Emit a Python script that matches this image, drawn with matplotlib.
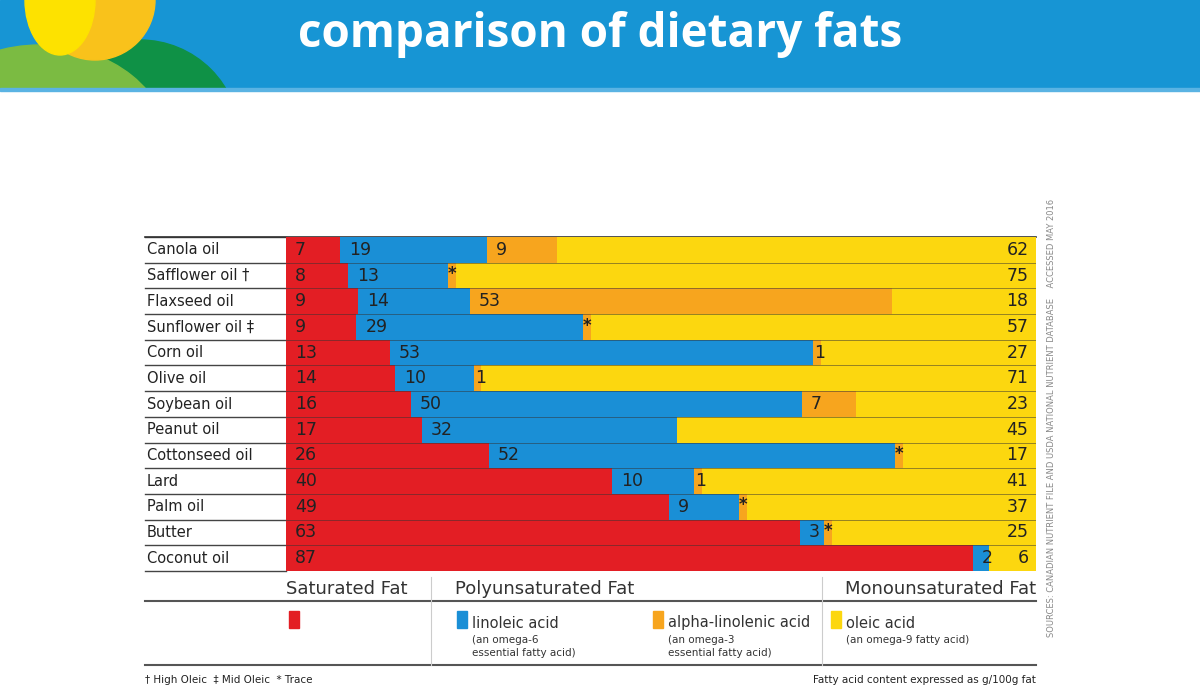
import matplotlib
matplotlib.use("Agg")
import matplotlib.pyplot as plt
from matplotlib.patches import Rectangle, Circle, Ellipse

oils = ["Canola oil", "Safflower oil \u2020", "Flaxseed oil", "Sunflower oil \u2021", "Corn oil",
        "Olive oil", "Soybean oil", "Peanut oil", "Cottonseed oil", "Lard", "Palm oil",
        "Butter", "Coconut oil"]
saturated = [7, 8, 9, 9, 13, 14, 16, 17, 26, 40, 49, 63, 87]
linoleic = [19, 13, 14, 29, 53, 10, 50, 32, 52, 10, 9, 3, 2]
# "T" = trace amount, 0 = none
alpha_lin = [9, "T", 53, "T", 1, 1, 7, 0, "T", 1, "T", "T", 0]
oleic = [62, 75, 18, 57, 27, 71, 23, 45, 17, 41, 37, 25, 6]

RED, BLUE, ORANGE, YELLOW = "#e31e24", "#1a8fd6", "#f7a51e", "#fcd70f"
TXT = "#222222"
W, H = 1200, 699

fig = plt.figure(figsize=(12, 6.99), dpi=100)
bg = fig.add_axes([0, 0, 1, 1])
bg.set_xlim(0, W)
bg.set_ylim(H, 0)
bg.axis("off")

# header
band = Rectangle((0, 0), W, 89, color="#1795d4", zorder=0)
bg.add_patch(band)
for p in [Ellipse((140, 140), 200, 200, color="#0f9146", zorder=1),
          Ellipse((40, 150), 260, 210, color="#7bbb42", zorder=1.5),
          Circle((95, 0), 60, color="#f9c21b", zorder=2),
          Ellipse((60, 0), 70, 110, color="#fde200", zorder=2.2)]:
    bg.add_patch(p)
    p.set_clip_path(band)
bg.add_patch(Rectangle((0, 88), W, 3, color="#5ab3e3", zorder=3))
bg.text(600, 34, "comparison of dietary fats", color="white", fontsize=33,
        fontweight="bold", family="Open Sans", ha="center", va="center", zorder=4)

x0, x1, y0, y1 = 286, 1036, 237, 571
ax = fig.add_axes([x0 / W, 1 - y1 / H, (x1 - x0) / W, (y1 - y0) / H])
ax.set_xlim(0, 1)
ax.set_ylim(len(oils) - 0.5, -0.5)
ax.axis("off")

TRACE = 1.0
for i, oil in enumerate(oils):
    a = alpha_lin[i]
    av = TRACE if a == "T" else a
    vals = [saturated[i], linoleic[i], av, oleic[i]]
    tot = sum(vals)
    left = 0
    for j, (v, c) in enumerate(zip(vals, [RED, BLUE, ORANGE, YELLOW])):
        w = v / tot
        if w > 0:
            ax.barh(i, w, left=left, height=1.0, color=c, linewidth=0)
        if j == 3:
            ax.text(0.99, i, str(v), ha="right", va="center", fontsize=12.5, color=TXT)
        elif j == 2 and a == "T":
            ax.text(left + w / 2, i - 0.05, "*", ha="center", va="center", fontsize=12,
                    color=TXT, fontweight="bold")
        elif v > 0:
            ax.text(left + (0.012 if v >= 2 or j != 2 else 0.002), i, str(v),
                    ha="left", va="center", fontsize=12.5, color=TXT)
        left += w
    if i > 0:
        ax.axhline(i - 0.5, color="#333333", lw=0.6, alpha=0.6)
    yc = y0 + (i + 0.5) * (y1 - y0) / len(oils)
    bg.text(147, yc, oil, ha="left", va="center", fontsize=10.5, color=TXT)

# row lines
for k in range(len(oils) + 1):
    yy = y0 + k * (y1 - y0) / len(oils)
    bg.plot([145, x0], [yy, yy], color="#444444", lw=1)
bg.plot([145, x1], [y0, y0], color="#333333", lw=1.2, zorder=5)

# legend
bg.plot([145, x1], [601, 601], color="#555555", lw=1.5)
bg.plot([145, x1], [665, 665], color="#555555", lw=1.5)
for xv in (431, 822):
    bg.plot([xv, xv], [577, 665], color="#cccccc", lw=0.8)
bg.text(286, 589, "Saturated Fat", fontsize=13, color="#333333", va="center")
bg.text(455, 589, "Polyunsaturated Fat", fontsize=13, color="#333333", va="center")
bg.text(845, 589, "Monounsaturated Fat", fontsize=13, color="#333333", va="center")
for (lx, col, lab, sub) in [(289, RED, "", ""),
                            (457, BLUE, "linoleic acid", "(an omega-6\nessential fatty acid)"),
                            (653, ORANGE, "alpha-linolenic acid", "(an omega-3\nessential fatty acid)"),
                            (831, YELLOW, "oleic acid", "(an omega-9 fatty acid)")]:
    bg.add_patch(Rectangle((lx, 611), 10, 17, color=col))
    if lab:
        bg.text(lx + 15, 623, lab, fontsize=10.5, color="#333333", va="center")
        bg.text(lx + 15, 635, sub, fontsize=7.5, color="#333333", va="top", linespacing=1.4)

bg.text(145, 680, "\u2020 High Oleic  \u2021 Mid Oleic  * Trace", fontsize=7.5, color=TXT, va="center")
bg.text(1036, 680, "Fatty acid content expressed as g/100g fat", fontsize=7.5, color=TXT,
        va="center", ha="right")
bg.text(1052, 418, "SOURCES: CANADIAN NUTRIENT FILE AND USDA NATIONAL NUTRIENT DATABASE    ACCESSED MAY 2016",
        rotation=90, fontsize=6, color="#888888", ha="center", va="center", family="Liberation Sans Narrow")

fig.savefig("out.png", dpi=100)
